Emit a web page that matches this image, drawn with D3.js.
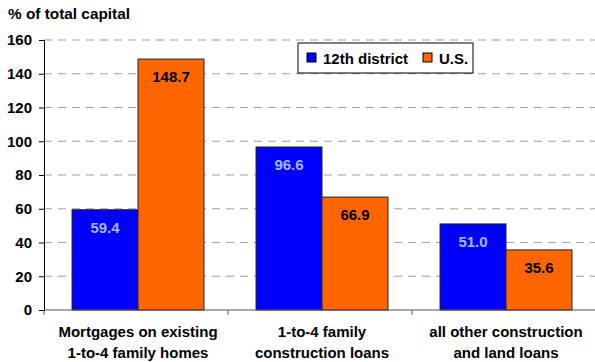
<!DOCTYPE html>
<html>
<head>
<meta charset="utf-8">
<script src="https://cdn.jsdelivr.net/npm/d3@7"></script>
<style>
  body { margin: 0; background: #fff; }
  text { font-family: "Liberation Sans", Arial, sans-serif; font-weight: bold; }
</style>
</head>
<body>
<div id="chart"></div>
<script>
// data
const categories = [
  ["Mortgages on existing", "1-to-4 family homes"],
  ["1-to-4 family", "construction loans"],
  ["all other construction", "and land loans"]
];
const series = ["12th district", "U.S."];
const district = [59.4, 96.6, 51.0];
const us = [148.7, 66.9, 35.6];
const yTicks = [0, 20, 40, 60, 80, 100, 120, 140, 160];

const colors = ["#0000ff", "#ff6600"];
const labelColors = ["#a8b8ff", "#000"];

const W = 595, H = 362;
const margin = {top: 40, right: 0, bottom: 52, left: 44};

const svg = d3.select("#chart").append("svg")
  .attr("width", W).attr("height", H);

const x = d3.scaleBand()
  .domain(d3.range(categories.length))
  .range([margin.left + 2, 598])
  .paddingInner(0.283)
  .paddingOuter(0.1415);

const y = d3.scaleLinear()
  .domain([0, 160])
  .range([H - margin.bottom, margin.top]);

// title
svg.append("text")
  .attr("x", 8).attr("y", 19)
  .attr("font-size", 14)
  .attr("textLength", 122)
  .attr("lengthAdjust", "spacingAndGlyphs")
  .text("% of total capital");

// gridlines
svg.append("g").selectAll("line")
  .data(yTicks.filter(d => d > 0))
  .enter().append("line")
    .attr("x1", margin.left).attr("x2", W)
    .attr("y1", d => y(d)).attr("y2", d => y(d))
    .attr("stroke", "#a0a0a0")
    .attr("stroke-width", 1.2)
    .attr("stroke-dasharray", "8,6");

// y axis
const yAxis = svg.append("g")
  .attr("transform", `translate(${margin.left},0)`)
  .call(d3.axisLeft(y).tickValues(yTicks).tickSize(5).tickPadding(7));
yAxis.selectAll("text").attr("font-size", 15).attr("fill", "#000");
yAxis.select(".domain").attr("stroke", "#000");

// bars
const groups = [district, us];
const inner = x.bandwidth() / 2;
groups.forEach((vals, s) => {
  const g = svg.append("g");
  g.selectAll("rect")
    .data(vals)
    .enter().append("rect")
      .attr("x", (d, i) => x(i) + s * inner)
      .attr("y", d => y(d))
      .attr("width", inner)
      .attr("height", d => y(0) - y(d))
      .attr("fill", colors[s])
      .attr("stroke", "#222")
      .attr("stroke-width", 1);
  g.selectAll("text")
    .data(vals)
    .enter().append("text")
      .attr("x", (d, i) => x(i) + s * inner + inner / 2)
      .attr("y", d => y(d) + 23)
      .attr("text-anchor", "middle")
      .attr("font-size", 15)
      .attr("fill", labelColors[s])
      .text(d => d.toFixed(1));
});

// x axis
const step = x.step();
const xTicks = [0, 1, 2, 3].map(i => margin.left + i * step);
svg.append("line")
  .attr("x1", margin.left).attr("x2", W)
  .attr("y1", y(0)).attr("y2", y(0))
  .attr("stroke", "#555").attr("stroke-width", 1.2);
svg.append("g").selectAll("line")
  .data(xTicks)
  .enter().append("line")
    .attr("x1", d => d).attr("x2", d => d)
    .attr("y1", y(0)).attr("y2", y(0) + 5)
    .attr("stroke", "#555");

const xl = svg.append("g").selectAll("text")
  .data(categories)
  .enter().append("text")
    .attr("text-anchor", "middle")
    .attr("font-size", 15)
    .attr("transform", (d, i) => `translate(${x(i) + x.bandwidth() / 2},${y(0) + 27})`);
xl.selectAll("tspan")
  .data(d => d)
  .enter().append("tspan")
    .attr("x", 0)
    .attr("dy", (d, i) => i === 0 ? 0 : 21)
    .text(d => d);

// legend
const lg = svg.append("g").attr("transform", "translate(298,43)");
lg.append("rect")
  .attr("width", 175).attr("height", 30)
  .attr("fill", "#fff").attr("stroke", "#000");
const items = [{x: 9, label: series[0]}, {x: 125, label: series[1]}];
items.forEach((it, i) => {
  lg.append("rect")
    .attr("x", it.x).attr("y", 10)
    .attr("width", 9).attr("height", 9)
    .attr("fill", colors[i]).attr("stroke", "#000");
  lg.append("text")
    .attr("x", it.x + 16).attr("y", 20.5)
    .attr("font-size", 15)
    .text(it.label);
});
</script>
</body>
</html>
